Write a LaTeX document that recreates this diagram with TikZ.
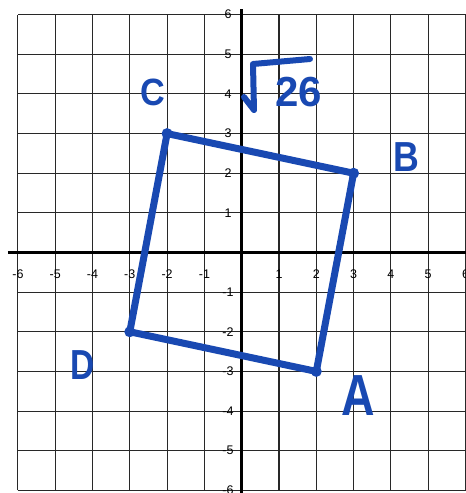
\documentclass[tikz,border=0pt]{standalone}
\usepackage{fontspec}
\setmainfont{Liberation Sans}
\definecolor{pen}{RGB}{25,73,178}
\definecolor{gridc}{RGB}{40,40,40}
\begin{document}
\begin{tikzpicture}[x=37.3pt,y=39.64pt,
  gridline/.style={draw=gridc,line width=1.1pt},
  axisline/.style={draw=black,line width=3pt},
  ticklab/.style={font=\fontsize{12.5}{13}\selectfont,inner sep=0pt,text=black},
  penline/.style={draw=pen,line width=7pt,line join=round,line cap=round},
  hand/.style={text=pen,inner sep=0pt,font=\bfseries}]
\useasboundingbox (-241.7pt,-240.5pt) rectangle (224.3pt,252.5pt);
\fill[white] (-241.7pt,-240.5pt) rectangle (224.3pt,252.5pt);
% grid
\foreach \k in {-6,...,6}{
  \draw[gridline] (\k,-6) -- (\k,6);
  \draw[gridline] (-6,\k) -- (6,\k);
}
% axes
\coordinate (xl) at (-233.7pt,0);
\coordinate (xr) at (224.3pt,0);
\coordinate (yt) at (0,243.5pt);
\coordinate (yb) at (0,-240.5pt);
\draw[axisline] (xl) -- (xr);
\draw[draw=black,line width=2.6pt] (yb) -- (yt);
% tick labels
\foreach \i in {-6,-5,-4,-3,-2,-1,1,2,3,4,5,6}{
  \node[ticklab] (xt\i) at ([yshift=-21.5pt]\i,0) {\i};
  \node[ticklab] (yt\i) at ([xshift=-13.7pt]0,\i) {\i};
}
% square
\coordinate (A) at (2,-3);
\coordinate (B) at (3,2);
\coordinate (C) at (-2,3);
\coordinate (D) at (-3,-2);
\draw[penline] (A) -- (B) -- (C) -- (D) -- cycle;
\foreach \p in {A,B,C,D}{\fill[pen] (\p) circle (5.5pt);}
% handwritten labels
\node[hand,font=\bfseries\fontsize{38}{40}\selectfont,xscale=0.9] (lC) at (-88.7pt,160.5pt) {C};
\node[hand,font=\bfseries\fontsize{42}{44}\selectfont,xscale=0.85] (lB) at (164.3pt,95.5pt) {B};
\node[hand,font=\bfseries\fontsize{58}{60}\selectfont,xscale=0.8] (lA) at (116.3pt,-143.5pt) {A};
\node[hand,font=\bfseries\fontsize{42}{44}\selectfont,xscale=0.8] (lD) at (-158.7pt,-112.5pt) {D};
\node[hand,font=\bfseries\fontsize{42}{44}\selectfont] (l26) at (57pt,160.5pt) {26};
\coordinate (r1) at (2.3pt,155.5pt);
\coordinate (r2) at (12.3pt,142.5pt);
\coordinate (r3) at (11.3pt,188.5pt);
\coordinate (r4) at (68.3pt,193.5pt);
\draw[draw=pen,line width=6pt,line cap=round,line join=round] (r1) -- (r2) -- (r3) -- (r4);
\end{tikzpicture}
\end{document}
